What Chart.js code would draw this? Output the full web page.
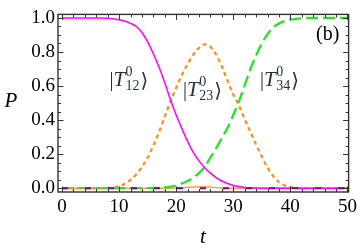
<!DOCTYPE html>
<html>
<head>
<meta charset="utf-8">
<script src="https://cdn.jsdelivr.net/npm/chart.js@4/dist/chart.umd.min.js"></script>
<style>
html,body{margin:0;padding:0;background:#fff;}
#wrap{width:361px;height:249px;position:relative;}
.fontprime{position:absolute;left:-1000px;top:0;font-size:20px;}
</style>
</head>
<body>
<div id="wrap"><canvas id="c" width="361" height="249"></canvas></div>
<span class="fontprime" style="font-family:'Liberation Serif'">0.8 T P t</span>
<span class="fontprime" style="font-family:'Liberation Serif';font-style:italic">T P t</span>
<span class="fontprime" style="font-family:'DejaVu Serif'">&#x27E9;</span>
<script>
// ---- data ----
const tValues = [0,1,2,3,4,5,6,7,8,9,10,11,12,13,14,15,16,17,18,19,20,21,22,23,24,25,26,27,28,29,30,31,32,33,34,35,36,37,38,39,40,41,42,43,44,45,46,47,48,49,50];
const pT12 = [1,1,1,1,1,1,1,1,0.998,0.995,0.99,0.982,0.968,0.95,0.915,0.86,0.79,0.71,0.62,0.52,0.43,0.35,0.275,0.21,0.16,0.12,0.088,0.062,0.042,0.027,0.016,0.009,0.004,0.002,0.001,0,0,0,0,0,0,0,0,0,0,0,0,0,0,0,0];
const pT23 = [0,0,0,0,0,0,0,0,0.001,0.004,0.012,0.026,0.048,0.08,0.125,0.18,0.25,0.33,0.42,0.51,0.59,0.665,0.73,0.785,0.825,0.845,0.83,0.785,0.715,0.63,0.55,0.485,0.405,0.33,0.255,0.185,0.12,0.07,0.036,0.016,0.006,0.002,0,0,0,0,0,0,0,0,0];
const pT34 = [0,0,0,0,0,0,0,0,0,0,0,0,0,0,0,0,0.001,0.002,0.004,0.009,0.016,0.027,0.042,0.062,0.09,0.125,0.18,0.235,0.295,0.355,0.43,0.51,0.605,0.7,0.78,0.85,0.905,0.945,0.968,0.982,0.99,0.995,0.998,1,1,1,1,1,1,1,1];
const pSmall = [0,0,0,0,0,0,0,0,0,0,0,0,0,0,0,0,0,0,0,0,0.001,0.003,0.005,0.007,0.008,0.008,0.006,0.003,0.001,0,0,0,0,0,0,0,0,0,0,0,0,0,0,0,0,0,0,0,0,0,0];
const pOther = [0,0,0,0,0,0,0,0,0,0,0,0,0,0,0,0,0,0,0,0,0,0,0,0,0,0,0,0,0,0,0,0,0,0,0,0,0,0,0,0,0,0,0,0,0,0,0,0,0,0,0];
const xMajorTicks = [0,10,20,30,40,50];
const xMinorTicks = [2,4,6,8,12,14,16,18,22,24,26,28,32,34,36,38,42,44,46,48];
const yMajorTicks = [0,0.2,0.4,0.6,0.8,1.0];
const yMinorTicks = [0.05,0.1,0.15,0.25,0.3,0.35,0.45,0.5,0.55,0.65,0.7,0.75,0.85,0.9,0.95];
const stateLabels = [
  {sub:'12', t:8.3, p:0.60},
  {sub:'23', t:21.2, p:0.54},
  {sub:'34', t:34.7, p:0.60}
];
const panelTag = {text:'(b)', t:44.5, p:0.868};

const pts = arr => tValues.map((t,i)=>({x:t,y:arr[i]}));

const serif = "'Liberation Serif', serif";

const decor = {
  id:'decor',
  afterDraw(chart){
    const ctx = chart.ctx, a = chart.chartArea, xs = chart.scales.x, ys = chart.scales.y;
    ctx.save();
    ctx.strokeStyle = '#333';
    ctx.lineWidth = 1;
    ctx.beginPath();
    const tick = (vals, len, isX) => {
      vals.forEach(v => {
        if (isX) {
          const px = Math.round(xs.getPixelForValue(v)) + 0.5;
          ctx.moveTo(px, a.bottom); ctx.lineTo(px, a.bottom - len);
          ctx.moveTo(px, a.top); ctx.lineTo(px, a.top + len);
        } else {
          const py = Math.round(ys.getPixelForValue(v)) + 0.5;
          ctx.moveTo(a.left, py); ctx.lineTo(a.left + len, py);
          ctx.moveTo(a.right, py); ctx.lineTo(a.right - len, py);
        }
      });
    };
    tick(xMajorTicks, 5.5, true);
    tick(xMinorTicks, 3, true);
    tick(yMajorTicks, 5.5, false);
    tick(yMinorTicks, 3, false);
    ctx.stroke();
    ctx.lineWidth = 1.4;
    ctx.strokeRect(a.left, a.top, a.right - a.left, a.bottom - a.top);

    // state labels
    ctx.fillStyle = '#26303c';
    ctx.textBaseline = 'alphabetic';
    ctx.textAlign = 'left';
    stateLabels.forEach(l => {
      let x = xs.getPixelForValue(l.t);
      const yb = ys.getPixelForValue(l.p);
      ctx.font = '20px ' + serif;
      ctx.fillText('|', x, yb); x += ctx.measureText('|').width;
      ctx.font = 'italic 21px ' + serif;
      ctx.fillText('T', x, yb); x += ctx.measureText('T').width + 0.5;
      ctx.font = '14px ' + serif;
      ctx.fillText('0', x, yb - 10);
      ctx.fillText(l.sub, x, yb + 4);
      x += ctx.measureText(l.sub).width + 1;
      ctx.font = "20px 'DejaVu Serif', serif";
      ctx.fillText('\u27E9', x, yb + 1);
    });
    ctx.font = '20px ' + serif;
    ctx.fillStyle = '#000';
    ctx.fillText(panelTag.text, xs.getPixelForValue(panelTag.t), ys.getPixelForValue(panelTag.p));

    // axis titles
    ctx.font = 'italic 21px ' + serif;
    ctx.textAlign = 'center';
    ctx.textBaseline = 'middle';
    ctx.fillStyle = '#000';
    ctx.fillText('P', 11, 101);
    ctx.fillText('t', 203, 237);
    ctx.restore();
  }
};

function build(){
new Chart(document.getElementById('c'), {
  type:'line',
  data:{
    datasets:[
      {label:'other', data:pts(pOther), borderColor:'#800080', borderWidth:2, borderDash:[6,17], pointRadius:0, order:0},
      {label:'T12', data:pts(pT12), borderColor:'#ff00ff', borderWidth:1.5, pointRadius:0, cubicInterpolationMode:'monotone', order:1},
      {label:'T23', data:pts(pT23), borderColor:'#ff8c1a', borderWidth:2.2, borderDash:[4,3.5], pointRadius:0, cubicInterpolationMode:'monotone', order:2},
      {label:'T34', data:pts(pT34), borderColor:'#22e622', borderWidth:2.3, borderDash:[12,5], pointRadius:0, cubicInterpolationMode:'monotone', order:3},
      {label:'small', data:pts(pSmall), borderColor:'#f0a050', borderWidth:1.5, pointRadius:0, cubicInterpolationMode:'monotone', order:4}
    ]
  },
  options:{
    responsive:false,
    animation:false,
    events:[],
    layout:{padding:{left:0,right:8,top:8,bottom:0}},
    plugins:{legend:{display:false}, tooltip:{enabled:false}},
    scales:{
      x:{
        type:'linear', min:-0.7, max:50.2,
        grid:{display:false, drawTicks:false},
        border:{display:false},
        afterBuildTicks(s){ s.ticks = xMajorTicks.map(v=>({value:v})); },
        afterFit(s){ s.height = 57; },
        ticks:{font:{family:"'Liberation Serif', serif", size:19}, color:'#000', padding:4, maxRotation:0, callback:v=>String(v)}
      },
      y:{
        type:'linear', min:-0.0227, max:1.021,
        grid:{display:false, drawTicks:false},
        border:{display:false},
        afterBuildTicks(s){ s.ticks = yMajorTicks.map(v=>({value:v})); },
        afterFit(s){ s.width = 58; },
        ticks:{font:{family:"'Liberation Serif', serif", size:19}, color:'#000', padding:3, callback:v=>Number(v).toFixed(1)}
      }
    }
  },
  plugins:[decor]
});
}
Promise.all([
  document.fonts.load("20px 'Liberation Serif'"),
  document.fonts.load("italic 20px 'Liberation Serif'"),
  document.fonts.load("20px 'DejaVu Serif'")
]).then(build, build);
</script>
</body>
</html>
